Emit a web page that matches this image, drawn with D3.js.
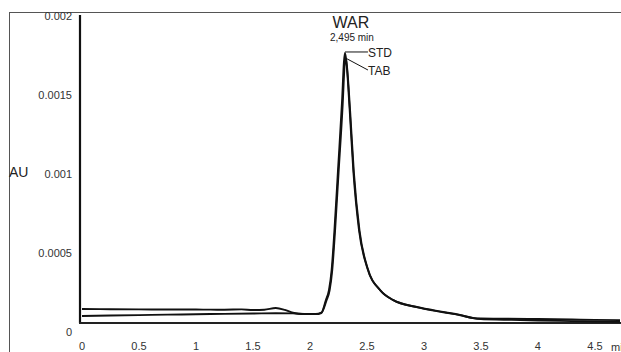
<!DOCTYPE html>
<html>
<head>
<meta charset="utf-8">
<script src="https://cdn.jsdelivr.net/npm/d3@7"></script>
<style>
  body { margin: 0; background: #fff; }
  svg { display: block; font-family: "Liberation Sans", Arial, sans-serif; }
</style>
</head>
<body>
<svg id="chart" width="621" height="352"></svg>
<script>
// retention time (min) and absorbance (AU)
var stdTime = [0, 0.25, 0.5, 0.75, 1.0, 1.25, 1.4, 1.5, 1.6, 1.7, 1.78, 1.85, 1.95, 2.05, 2.1, 2.14, 2.167, 2.19, 2.215, 2.246, 2.282, 2.298, 2.307, 2.318, 2.348, 2.38, 2.43, 2.5, 2.614, 2.728, 2.939, 3.167, 3.316, 3.43, 3.5, 3.7, 4.0, 4.3, 4.5, 4.72];
var stdAU   = [0.000146, 0.000144, 0.000143, 0.000142, 0.000142, 0.000141, 0.000143, 0.000139, 0.000141, 0.000152, 0.00014, 0.000122, 0.000114, 0.000114, 0.000122, 0.000203, 0.000266, 0.000392, 0.000646, 0.001025, 0.001468, 0.00171, 0.001766, 0.00172, 0.00141, 0.001025, 0.000646, 0.000411, 0.000266, 0.000203, 0.000158, 0.000127, 0.000108, 0.000089, 0.000085, 0.000084, 0.000082, 0.000079, 0.000077, 0.000075];

var tabTime = [0, 0.25, 0.5, 0.75, 1.0, 1.25, 1.5, 1.7, 1.85, 1.95, 2.05, 2.1, 2.145, 2.172, 2.195, 2.22, 2.251, 2.287, 2.303, 2.312, 2.323, 2.353, 2.385, 2.435, 2.505, 2.62, 2.735, 2.945, 3.17, 3.32, 3.43, 3.5, 3.7, 4.0, 4.3, 4.5, 4.72];
var tabAU   = [0.000101, 0.000104, 0.000107, 0.00011, 0.000112, 0.000115, 0.000117, 0.000119, 0.000118, 0.000114, 0.000113, 0.00012, 0.0002, 0.000262, 0.000388, 0.00064, 0.00101, 0.00144, 0.00168, 0.001734, 0.00169, 0.00139, 0.00101, 0.00064, 0.000405, 0.000262, 0.0002, 0.000156, 0.000125, 0.000106, 0.000088, 0.000082, 0.000078, 0.000072, 0.000069, 0.000066, 0.000064];

var yTicks = [0, 0.0005, 0.001, 0.0015, 0.002];
var xTicks = [0, 0.5, 1, 1.5, 2, 2.5, 3, 3.5, 4, 4.5];

var peakName = "WAR";
var peakTime = "2,495 min";
var seriesNames = ["STD", "TAB"];

var svg = d3.select("#chart");

var x = d3.scaleLinear().domain([0, 4.72]).range([82, 620]);
var y = d3.scaleLinear().domain([0, 0.002]).range([332, 16]);
var axisY = 323;

// outer frame
svg.append("rect")
    .attr("x", 9.5).attr("y", 12.5)
    .attr("width", 700).attr("height", 400)
    .attr("fill", "none").attr("stroke", "#555").attr("stroke-width", 1);

// axis lines
svg.append("line")
    .attr("x1", 80).attr("x2", 80).attr("y1", y(0.002) - 1).attr("y2", axisY)
    .attr("stroke", "#111").attr("stroke-width", 2.2);
svg.append("line")
    .attr("x1", 79).attr("x2", 621).attr("y1", axisY).attr("y2", axisY)
    .attr("stroke", "#222").attr("stroke-width", 1.8);

// y tick labels
svg.selectAll(".ylab").data(yTicks).enter().append("text")
    .attr("class", "ylab")
    .attr("x", 72).attr("y", function(d) { return y(d) + 4; })
    .attr("text-anchor", "end")
    .attr("font-size", 11).attr("fill", "#333")
    .text(function(d) { return d; });

// x tick labels
svg.selectAll(".xlab").data(xTicks).enter().append("text")
    .attr("class", "xlab")
    .attr("x", function(d) { return x(d); }).attr("y", 350)
    .attr("text-anchor", "middle")
    .attr("font-size", 11).attr("fill", "#333")
    .text(function(d) { return d; });

svg.append("text")
    .attr("x", 611).attr("y", 351)
    .attr("font-size", 11).attr("fill", "#333")
    .text("min");

svg.append("text")
    .attr("x", 9).attr("y", 177)
    .attr("font-size", 14).attr("fill", "#222")
    .text("AU");

// traces
var line = d3.line()
    .x(function(d) { return x(d[0]); })
    .y(function(d) { return y(d[1]); })
    .curve(d3.curveMonotoneX);

var stdData = d3.zip(stdTime, stdAU);
var tabData = d3.zip(tabTime, tabAU);

[stdData, tabData].forEach(function(data) {
    svg.append("path")
        .datum(data)
        .attr("d", line)
        .attr("fill", "none")
        .attr("stroke", "#111")
        .attr("stroke-width", 1.9)
        .attr("stroke-linejoin", "round");
});

// peak annotation
var stdPeak = stdData[d3.maxIndex(stdAU)];
var tabPeak = tabData[d3.maxIndex(tabAU)];

svg.append("text")
    .attr("x", x(stdPeak[0]) + 6).attr("y", 28)
    .attr("text-anchor", "middle")
    .attr("font-size", 16).attr("fill", "#222")
    .text(peakName);
svg.append("text")
    .attr("x", x(stdPeak[0]) + 7).attr("y", 41)
    .attr("text-anchor", "middle")
    .attr("font-size", 10).attr("fill", "#222")
    .text(peakTime);

var labelX = x(stdPeak[0]) + 23;
svg.append("line")
    .attr("x1", x(stdPeak[0])).attr("y1", y(stdPeak[1]) - 1)
    .attr("x2", labelX).attr("y2", y(stdPeak[1]) - 1)
    .attr("stroke", "#111").attr("stroke-width", 1);
svg.append("text")
    .attr("x", labelX).attr("y", y(stdPeak[1]) + 4)
    .attr("font-size", 12).attr("fill", "#222")
    .text(seriesNames[0]);

svg.append("line")
    .attr("x1", x(tabPeak[0])).attr("y1", y(tabPeak[1]))
    .attr("x2", labelX).attr("y2", y(tabPeak[1]) + 12)
    .attr("stroke", "#111").attr("stroke-width", 1);
svg.append("text")
    .attr("x", labelX).attr("y", y(tabPeak[1]) + 17)
    .attr("font-size", 12).attr("fill", "#222")
    .text(seriesNames[1]);
</script>
</body>
</html>
